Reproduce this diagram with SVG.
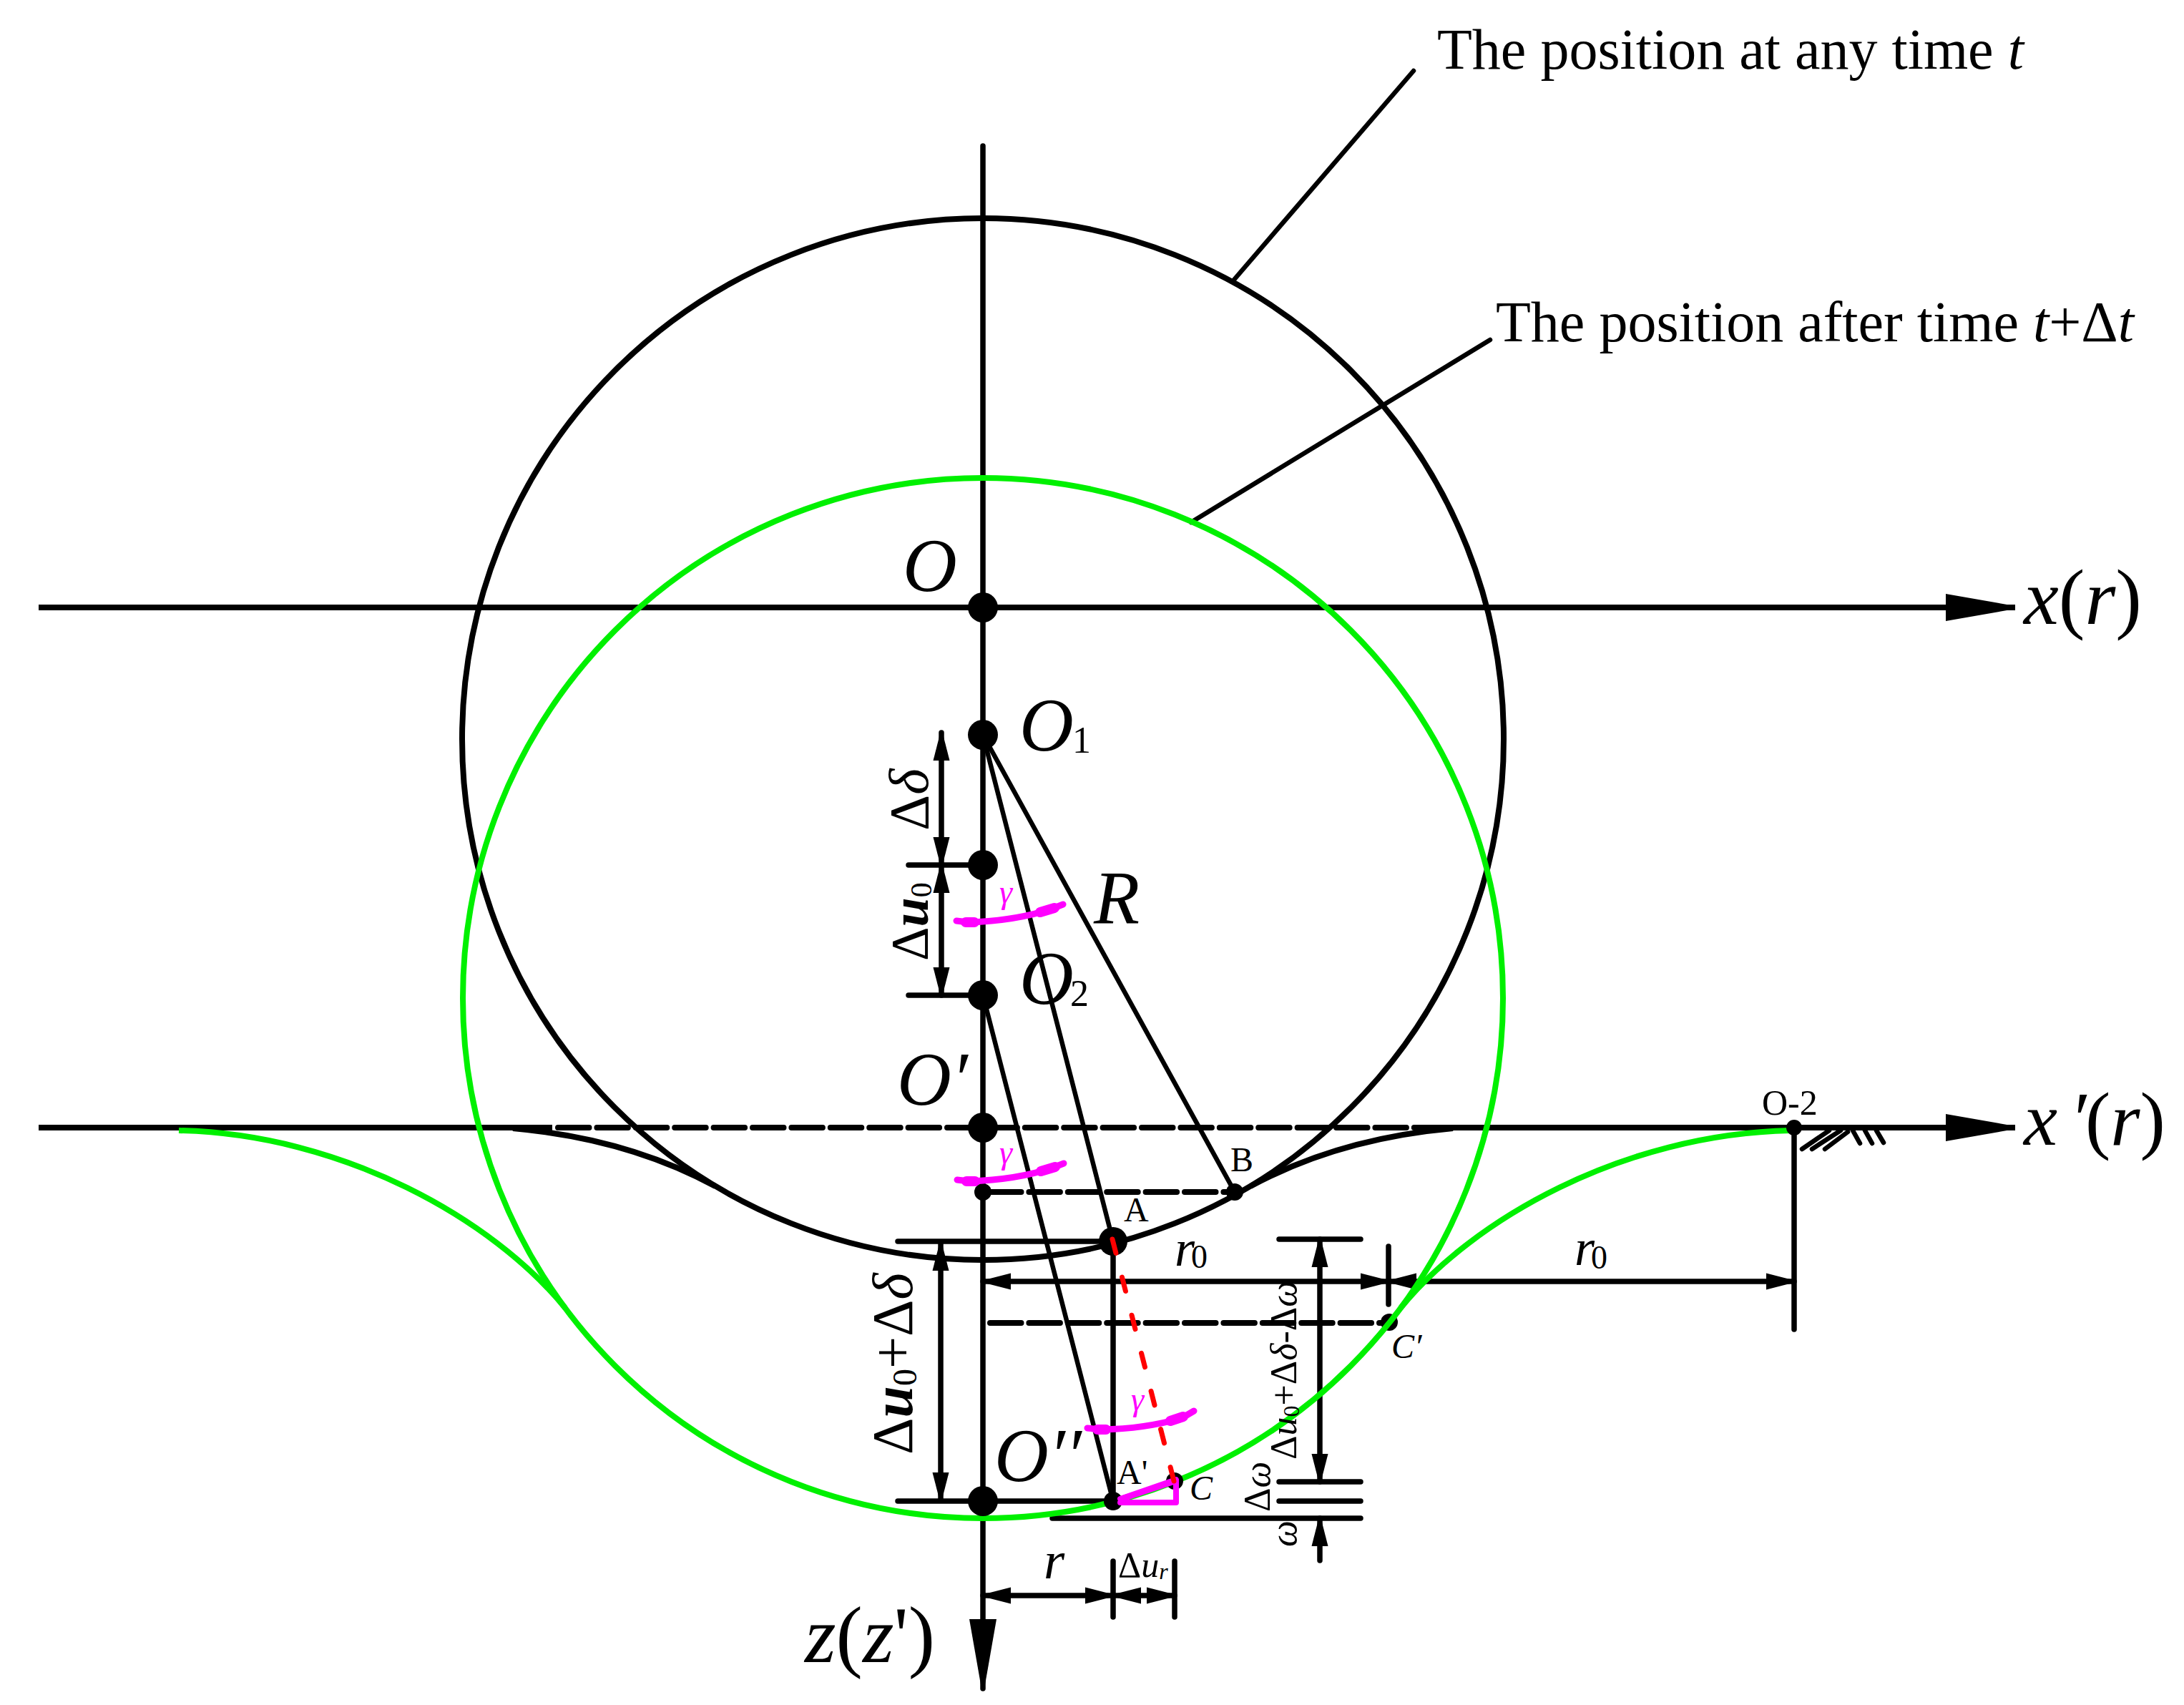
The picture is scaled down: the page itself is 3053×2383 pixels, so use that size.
<svg xmlns="http://www.w3.org/2000/svg" width="3053" height="2383" viewBox="0 0 3053 2383">
<style>
text{font-family:"Liberation Serif","Times New Roman",serif;fill:#000}
.i{font-style:italic}
.b{font-style:italic;font-weight:bold}
.l{fill:none;stroke:#000;stroke-width:7.5;stroke-linecap:round}
.ax{fill:none;stroke:#000;stroke-width:8}
.t{fill:none;stroke:#000;stroke-width:6.5;stroke-linecap:round}
.d{fill:none;stroke:#000;stroke-width:8;stroke-linecap:round;stroke-dasharray:43.5 10.9}
.g{fill:none;stroke:#00f000;stroke-width:8}
.bk{fill:none;stroke:#000;stroke-width:8}
.m{fill:none;stroke:#ff00ff;stroke-width:9;stroke-linecap:round;stroke-linejoin:round}
.mb{fill:none;stroke:#ff00ff;stroke-width:14;stroke-linecap:round}
.a{marker-start:url(#ah);marker-end:url(#ah)}
.ae{marker-end:url(#ah)}
.bg{marker-end:url(#big)}
.L{font-size:105px}
.M{font-size:48px}
</style>
<defs>
<marker id="ah" markerUnits="userSpaceOnUse" markerWidth="42" markerHeight="28" refX="40" refY="14" orient="auto-start-reverse"><path d="M1 2.5 L40 12.5 L40 15.5 L1 25.5 Z" fill="#000"/></marker>
<marker id="big" markerUnits="userSpaceOnUse" markerWidth="100" markerHeight="42" refX="98" refY="21" orient="auto"><path d="M1 2 L98 19 L98 23 L1 40 Z" fill="#000"/></marker>
<g id="arc"><path class="m" d="M1337 1287 L1354 1289 Q1420 1287 1471 1270 L1486 1264"/><path class="mb" d="M1350 1289 L1362 1289 M1454 1275 L1474 1269"/></g>
</defs>

<g id="connectors">
<path class="t" d="M1976 99 L1725 391"/>
<path class="t" d="M2083 475 L1665 730"/>
<path class="ax bg" d="M54 849 H2817"/>
<path class="ax" d="M54 1576 H772"/>
<path class="d" d="M780 1576 H2031"/>
<path class="ax bg" d="M2020 1576 H2817"/>
<path class="l bg" d="M1374 204 V2360"/>
<path class="t" d="M1374 1027 L1726 1666"/>
<path class="t" d="M1374 1027 L1556 1735"/>
<path class="t" d="M1374 1391 L1556 2098"/>
<path class="l" d="M1556 1735 V2098"/>
<path class="d" d="M1384 1666 H1726"/>
<path class="d" d="M1384 1849 H1942"/>
<path class="l" d="M1255 1735 H1556"/>
<path class="l" d="M1255 2098 H1556"/>
<path class="l" d="M1270 1209 H1374"/>
<path class="l" d="M1270 1391 H1374"/>
<path class="l a" d="M1316 1024 V1209"/>
<path class="l a" d="M1316 1209 V1391"/>
<path class="l a" d="M1315 1737 V2097"/>
<path class="l a" d="M1374 1791 H1941"/>
<path class="l a" d="M1941 1791 H2508"/>
<path class="l" d="M1941 1742 V1823"/>
<path class="l" d="M2508 1576 V1858"/>
<path class="t" d="M2519 1606 L2557 1580 M2533 1606 L2573 1580 M2551 1606 L2583 1582 M2600 1598 L2590 1580 M2617 1598 L2607 1580 M2633 1597 L2623 1580"/>
<path class="l" d="M1788 1732 H1902 M1788 2071 H1902 M1788 2098 H1902 M1471 2122 H1902"/>
<path class="l a" d="M1845 1732 V2071"/>
<path class="l ae" d="M1845 2181 V2122"/>
<path class="l a" d="M1374 2230 H1556"/>
<path class="l a" d="M1556 2230 H1642"/>
<path class="l" d="M1556 2182 V2260 M1642 2182 V2260"/>
</g>

<g id="position-t">
<circle class="bk" cx="1374" cy="1033" r="728"/>
<path class="bk" d="M1748 1658 C1818 1620 1908 1588 2031 1577"/>
<path class="bk" d="M1000 1658 C930 1620 840 1588 717 1577"/>
</g>
<circle id="point-c-prime" cx="1942" cy="1848" r="12"/>
<g id="position-t-dt">
<circle class="g" cx="1374" cy="1395" r="727"/>
<path class="g" d="M1958 1828 C2058 1705 2268 1585 2503 1580"/>
<path class="g" d="M790 1828 C690 1705 480 1585 250 1580"/>
</g>

<g id="points">
<circle cx="1374" cy="849" r="21"/>
<circle cx="1374" cy="1027" r="21"/>
<circle cx="1374" cy="1209" r="21"/>
<circle cx="1374" cy="1391" r="21"/>
<circle cx="1374" cy="1576" r="21"/>
<circle cx="1374" cy="1666" r="12"/>
<circle cx="1726" cy="1666" r="12"/>
<circle cx="1556" cy="1735" r="20"/>
<circle cx="1374" cy="2098" r="21"/>
<circle cx="1556" cy="2098" r="13"/>
<circle cx="1642" cy="2070" r="12"/>
<circle cx="2508" cy="1576" r="11"/>
</g>

<g id="angle-marks">
<use href="#arc"/>
<use href="#arc" y="362" x="1"/>
<path class="m" d="M1520 1996 L1540 1998 Q1600 1997 1652 1982 L1669 1972"/>
<path class="mb" d="M1534 1998 L1546 1998 M1636 1986 L1654 1980"/>
<path class="m" style="stroke-width:8" d="M1566 2095 L1644 2068 V2100 H1566"/>
<path d="M1566 2091 L1644 2066 L1644 2074 L1566 2100 Z" fill="#ff00ff"/>
<path d="M1555 1732 L1641 2070" fill="none" stroke="#ff0000" stroke-width="7" stroke-linecap="round" stroke-dasharray="20 34.8"/>
</g>

<g id="labels">
<text x="2009" y="96" font-size="80">The position at any time <tspan class="i">t</tspan></text>
<text x="2091" y="477" font-size="80">The position after time <tspan class="i">t</tspan>+Δ<tspan class="i">t</tspan></text>
<text class="L i" x="1262" y="826">O</text>
<text class="L i" x="1425" y="1049">O</text><text x="1499" y="1052" font-size="52">1</text>
<text class="L i" x="1425" y="1403">O</text><text x="1496" y="1406" font-size="52">2</text>
<text class="L i" x="1529" y="1290">R</text>
<text class="L i" x="1254" y="1544">O′</text>
<text class="L i" x="1390" y="2070">O′′</text>
<text transform="translate(1297 1161) rotate(-90)" font-size="78">Δ<tspan class="i">δ</tspan></text>
<text transform="translate(1297 1343) rotate(-90)" font-size="74">Δ<tspan class="b">u</tspan><tspan font-size="42" dy="5">0</tspan></text>
<text transform="translate(1275 2033) rotate(-90)" font-size="80">Δ<tspan class="b">u</tspan><tspan font-size="48" dy="6">0</tspan><tspan dy="-6">+Δ</tspan><tspan class="i">δ</tspan></text>
<text transform="translate(1812 2040) rotate(-90)" font-size="52">Δ<tspan class="i">u</tspan><tspan font-size="32" dy="4">0</tspan><tspan dy="-4">+Δ</tspan><tspan class="i">δ</tspan>-Δ<tspan class="i">ω</tspan></text>
<text transform="translate(1775 2113) rotate(-90)" font-size="52">Δ<tspan class="i">ω</tspan></text>
<text class="i" transform="translate(1812 2162) rotate(-90)" font-size="52">ω</text>
<text class="i" style="fill:#ff00ff" x="1397" y="1262" font-size="46">γ</text>
<text class="i" style="fill:#ff00ff" x="1397" y="1626" font-size="46">γ</text>
<text class="i" style="fill:#ff00ff" x="1581" y="1971" font-size="46">γ</text>
<text class="M" x="1571" y="1707">A</text>
<text class="M" x="1720" y="1637">B</text>
<text class="M" x="1561" y="2074">A'</text>
<text class="M i" x="1663" y="2096">C</text>
<text class="M i" x="1945" y="1898">C′</text>
<text x="2463" y="1558" font-size="50">O-2</text>
<text class="i" x="1642" y="1769" font-size="72">r</text><text x="1665" y="1772" font-size="46">0</text>
<text class="i" x="2201" y="1768" font-size="72">r</text><text x="2224" y="1773" font-size="46">0</text>
<text class="i" x="1459" y="2206" font-size="75">r</text>
<text x="1563" y="2204" font-size="50">Δ<tspan class="i">u</tspan><tspan class="i" font-size="32" dy="3">r</tspan></text>
<text x="1125" y="2323" font-size="112"><tspan class="i">z</tspan>(<tspan class="i">z</tspan>')</text>
<text x="2829" y="872" font-size="110"><tspan class="i">x</tspan>(<tspan class="i">r</tspan>)</text>
<text x="2829" y="1600" font-size="106"><tspan class="i">x</tspan><tspan class="i" x="2893">′</tspan><tspan x="2915">(</tspan><tspan class="i">r</tspan>)</text>
</g>
</svg>
